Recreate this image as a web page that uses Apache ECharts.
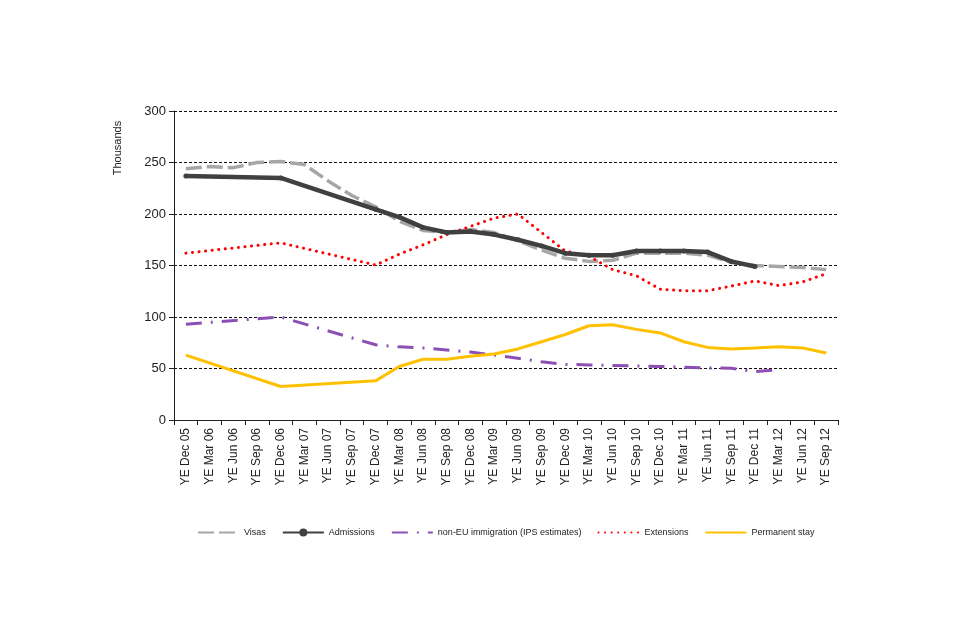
<!DOCTYPE html>
<html>
<head>
<meta charset="utf-8">
<script src="https://cdn.jsdelivr.net/npm/echarts@6/dist/echarts.min.js"></script>
<style>
  html, body { margin: 0; padding: 0; background: #fff; }
  #chart { width: 960px; height: 640px; }
</style>
</head>
<body>
<div id="chart"></div>
<script>
/* quarters, year ending */
var quarters = ['YE Dec 05', 'YE Mar 06', 'YE Jun 06', 'YE Sep 06', 'YE Dec 06', 'YE Mar 07', 'YE Jun 07',
    'YE Sep 07', 'YE Dec 07', 'YE Mar 08', 'YE Jun 08', 'YE Sep 08', 'YE Dec 08', 'YE Mar 09',
    'YE Jun 09', 'YE Sep 09', 'YE Dec 09', 'YE Mar 10', 'YE Jun 10', 'YE Sep 10', 'YE Dec 10',
    'YE Mar 11', 'YE Jun 11', 'YE Sep 11', 'YE Dec 11', 'YE Mar 12', 'YE Jun 12', 'YE Sep 12'];

/* thousands; null = no figure for that quarter */
var visas = [244, 246, 245, 250, 251, 248, 232, 218, 207, 193, 184, 182, 185, 182,
    174, 165, 157, 154, 155, 162, 162, 162, 160, 153, 150, 149, 148, 146];
var admissions = [237, null, null, null, 235, null, null, null, 204.5, 197, 187, 182, 183, 180,
    175, 169, 162, 160, 160, 164, 164, 164, 163, 154, 149, null, null, null];
var nonEU = [93, null, null, null, 100, null, null, null, 73, 71, 70, 68, 66, 63,
    60, 56.5, 54, 53.5, 53, 52.5, 52, 51.3, 50.6, 50.3, 47, 48.7, null, null];
var extensions = [162, null, null, null, 172, null, null, null, 150.5, 161, 170, 180, 188, 196,
    200, 182, 164, 159, 146, 140, 127, 125.5, 125.5, 130, 135, 130.5, 134, 142];
var permanentStay = [63, null, null, null, 32.5, null, null, null, 38, 52, 59, 59, 62, 64,
    69, 76, 83, 91.5, 92.5, 88, 84.5, 76, 70.5, 69, 70, 71, 70, 65];

var yTicks = [0, 50, 100, 150, 200, 250, 300];

var chart = echarts.init(document.getElementById('chart'));

// legend entries: hide the marker except for Admissions
function legendItem(name, hasMarker) {
    return { name: name, itemStyle: { opacity: hasMarker ? 1 : 0 } };
}

var option = {
    animation: false,
    textStyle: { fontFamily: 'Liberation Sans, Arial, sans-serif' },
    grid: { left: 174, right: 122, top: 111, bottom: 220 },
    legend: {
        top: 523,
        left: 192,
        itemWidth: 41,
        itemHeight: 10,
        itemGap: 16,
        textStyle: { fontSize: 9, color: '#222' },
        data: [
            legendItem('Visas', false),
            legendItem('Admissions', true),
            legendItem('non-EU immigration (IPS estimates)', false),
            legendItem('Extensions', false),
            legendItem('Permanent stay', false)
        ]
    },
    graphic: [{
        type: 'text',
        x: 118,
        y: 148,
        rotation: Math.PI / 2,
        style: {
            text: 'Thousands',
            fontSize: 11,
            fill: '#222',
            align: 'center',
            verticalAlign: 'middle',
            fontFamily: 'Liberation Sans, Arial, sans-serif'
        }
    }],
    xAxis: {
        type: 'category',
        data: quarters,
        boundaryGap: true,
        axisLine: { lineStyle: { color: '#222', width: 1 } },
        axisTick: { show: true, interval: 0, length: 5, lineStyle: { color: '#222' } },
        axisLabel: { interval: 0, rotate: 90, fontSize: 12, color: '#222', margin: 8 }
    },
    yAxis: {
        type: 'value',
        min: yTicks[0],
        max: yTicks[yTicks.length - 1],
        interval: 50,
        axisLine: { show: true, lineStyle: { color: '#222', width: 1 } },
        axisTick: { show: true, length: 5, lineStyle: { color: '#222' } },
        axisLabel: { fontSize: 13, color: '#222', margin: 8 },
        splitLine: { lineStyle: { color: '#111', type: [3, 2], width: 1 } }
    },
    series: [
        {
            name: 'Visas',
            type: 'line',
            data: visas,
            symbol: 'none',
            lineStyle: { color: '#a6a6a6', width: 3.5, type: [16, 5] },
            itemStyle: { color: '#a6a6a6' },
            z: 2
        },
        {
            name: 'Admissions',
            type: 'line',
            data: admissions,
            connectNulls: true,
            symbol: 'circle',
            symbolSize: 5,
            lineStyle: { color: '#404040', width: 4.5 },
            itemStyle: { color: '#404040' },
            z: 3
        },
        {
            name: 'non-EU immigration (IPS estimates)',
            type: 'line',
            data: nonEU,
            connectNulls: true,
            symbol: 'none',
            lineStyle: { color: '#8c4fb4', width: 3, type: [16, 9, 2, 9] },
            itemStyle: { color: '#8c4fb4' },
            z: 2
        },
        {
            name: 'Extensions',
            type: 'line',
            data: extensions,
            connectNulls: true,
            symbol: 'none',
            lineStyle: { color: '#ff0000', width: 3, type: [0.1, 6.5], cap: 'round' },
            itemStyle: { color: '#ff0000' },
            z: 2
        },
        {
            name: 'Permanent stay',
            type: 'line',
            data: permanentStay,
            connectNulls: true,
            symbol: 'none',
            lineStyle: { color: '#ffc000', width: 3 },
            itemStyle: { color: '#ffc000' },
            z: 2
        }
    ]
};

chart.setOption(option);
</script>
</body>
</html>
